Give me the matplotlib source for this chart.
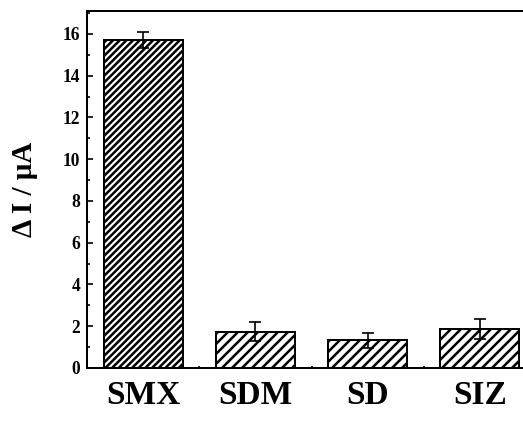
import matplotlib
matplotlib.use("Agg")
import matplotlib.pyplot as plt
from matplotlib.ticker import MultipleLocator, FixedLocator
import numpy as np

categories = ["SMX", "SDM", "SD", "SIZ"]
values = [15.72, 1.74, 1.33, 1.85]
errors = [0.38, 0.47, 0.37, 0.48]
hatches = ["//////", "////", "////", "////"]

DPI = 120
plt.rcParams["font.family"] = ["Liberation Serif", "DejaVu Serif"]
plt.rcParams["font.weight"] = "bold"
plt.rcParams["hatch.linewidth"] = 1.5

fig = plt.figure(figsize=(523 / DPI, 423 / DPI), dpi=DPI)
ax = fig.add_axes([87 / 523, 1 - 368 / 423, 449 / 523, (368 - 11) / 423])

x = np.arange(len(categories))
bars = ax.bar(x, values, width=0.705, color="white", edgecolor="black",
              linewidth=1.2, zorder=2)
for b, h in zip(bars, hatches):
    b.set_hatch(h)
ax.errorbar(x, values, yerr=errors, fmt="none", ecolor="black",
            elinewidth=1.0, capsize=3.5, capthick=1.0, zorder=3)

ax.set_xlim(-0.5, 3.5)
ax.set_ylim(0, 17.1)
ax.yaxis.set_major_locator(MultipleLocator(2))
ax.yaxis.set_minor_locator(MultipleLocator(1))
ax.set_xticks(x)
ax.set_xticklabels(categories, fontsize=20, fontweight="bold")
ax.xaxis.set_minor_locator(FixedLocator(x[:-1] + 0.5))
ax.tick_params(axis="y", which="major", direction="in", length=3.5, width=1.0,
               labelsize=10.5, pad=4)
ax.tick_params(axis="y", which="minor", direction="in", length=2, width=1.0)
ax.tick_params(axis="x", which="major", direction="in", length=2.5, width=1.0, pad=7)
ax.tick_params(axis="x", which="minor", direction="in", length=1.5, width=1.0)
for lab in ax.get_yticklabels():
    lab.set_fontweight("bold")
for s in ax.spines.values():
    s.set_linewidth(1.2)

ax.set_ylabel("\u0394 I / \u03bcA", fontsize=17.5, fontweight="bold")
ax.yaxis.set_label_coords((38 - 87) / 449, 0.5)

fig.savefig("out.png", dpi=DPI)
